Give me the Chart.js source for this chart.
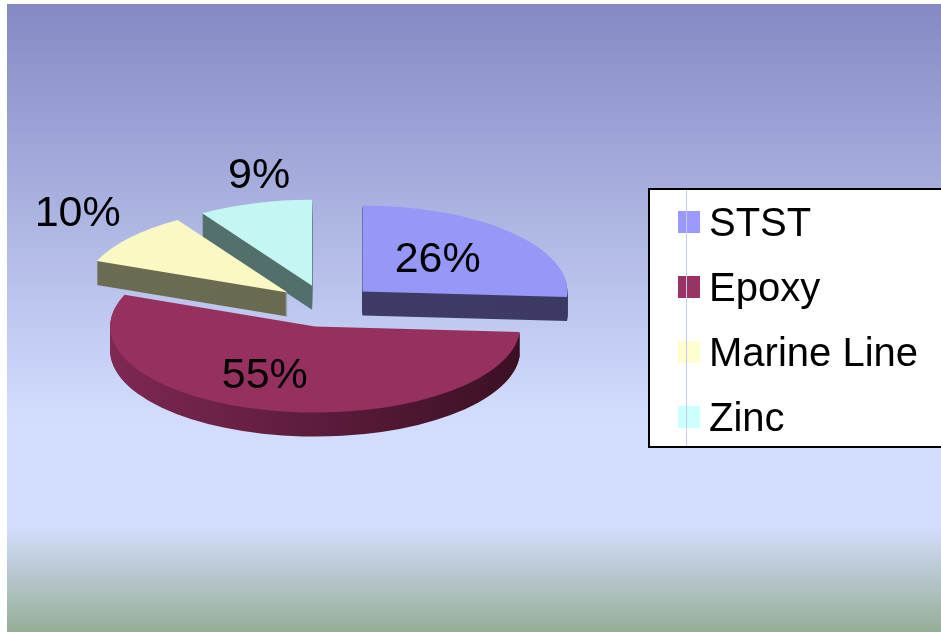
<!DOCTYPE html>
<html>
<head>
<meta charset="utf-8">
<script src="https://cdn.jsdelivr.net/npm/chart.js@4.4.1/dist/chart.umd.min.js"></script>
<style>
  html, body { margin: 0; padding: 0; background: #fff; }
  canvas { display: block; }
</style>
</head>
<body>
<canvas id="grafica" width="941" height="632"></canvas>
<script>
// =================== Datos ===================
const categorias = ["STST", "Epoxy", "Marine Line", "Zinc"];
const participacion = [26, 55, 10, 9];

// =================== Colores ===================
const colorCara = ["#9797F8", "#96305F", "#FAF9C3", "#C4F7F4"];
const ladoClaro = ["#403E6A", "#7E2853", "#6C6C52", "#54716E"];
const ladoOscuro = ["#3C3A62", "#3B1024", "#68684E", "#506C69"];
const colorLeyenda = ["#9999FF", "#993366", "#FFFFCC", "#CCFFFF"];

// =================== Pastel 3D ===================
const ALTO = 0.42;       // aplastamiento vertical de la vista
const GROSOR = 24;       // espesor del disco (px)
const SEPARACION = 50;   // explosión de cada porción

// etiquetas: fracción del radio y giro extra (grados)
const etiquetaRadio = [0.54, 0.59, 1.39, 1.33];
const etiquetaGiro = [-4, 12, 3, 5];

const FUENTE = '"Liberation Sans", Arial, sans-serif';

function porcentaje(v) {
  const total = participacion.reduce((a, b) => a + b, 0);
  return Math.round(v / total * 100) + "%";
}

const pastel3D = {
  id: "pastel3D",
  beforeDraw(chart) {
    const { ctx, width, height } = chart;
    ctx.save();
    ctx.fillStyle = "#fff";
    ctx.fillRect(0, 0, width, height);
    const g = ctx.createLinearGradient(0, 4, 0, height);
    g.addColorStop(0, "#8589C4");
    g.addColorStop(0.66, "#D2DDFE");
    g.addColorStop(0.83, "#D3DEFF");
    g.addColorStop(1, "#97AD96");
    ctx.fillStyle = g;
    ctx.fillRect(7, 4, width - 7, height - 4);
    ctx.restore();
  },
  beforeDatasetsDraw(chart) {
    const { ctx } = chart;
    const arcos = chart.getDatasetMeta(0).data;

    // inclina el disco alrededor del centro y separa la porción
    const vista = (arc, dy) => {
      const mid = (arc.startAngle + arc.endAngle) / 2;
      ctx.translate(0, arc.y + dy);
      ctx.scale(1, ALTO);
      ctx.translate(0, -arc.y);
      ctx.translate(Math.cos(mid) * SEPARACION, Math.sin(mid) * SEPARACION);
    };
    const trazo = (arc) => {
      ctx.beginPath();
      ctx.moveTo(arc.x, arc.y);
      ctx.arc(arc.x, arc.y, arc.outerRadius, arc.startAngle, arc.endAngle);
      ctx.closePath();
    };

    // paredes laterales
    arcos.forEach((arc, i) => {
      for (let d = GROSOR; d >= 1; d--) {
        ctx.save();
        vista(arc, d);
        const g = ctx.createLinearGradient(arc.x - arc.outerRadius, 0, arc.x + arc.outerRadius, 0);
        g.addColorStop(0, ladoClaro[i]);
        g.addColorStop(1, ladoOscuro[i]);
        ctx.fillStyle = g;
        trazo(arc);
        ctx.fill();
        ctx.restore();
      }
    });

    // caras superiores (las dibuja el propio ArcElement)
    arcos.forEach(arc => {
      ctx.save();
      vista(arc, 0);
      arc.draw(ctx);
      ctx.restore();
    });

    // porcentajes
    ctx.save();
    ctx.fillStyle = "#000";
    ctx.font = "43px " + FUENTE;
    ctx.textAlign = "center";
    ctx.textBaseline = "middle";
    arcos.forEach((arc, i) => {
      const mid = (arc.startAngle + arc.endAngle) / 2;
      const a = mid + etiquetaGiro[i] * Math.PI / 180;
      const r = arc.outerRadius * etiquetaRadio[i];
      const x = arc.x + Math.cos(mid) * SEPARACION + Math.cos(a) * r;
      const y = arc.y + (Math.sin(mid) * SEPARACION + Math.sin(a) * r) * ALTO;
      ctx.fillText(porcentaje(participacion[i]), x, y + 3);
    });
    ctx.restore();
    return false;
  },
  afterDraw(chart) {
    // leyenda con marco
    const { ctx } = chart;
    ctx.save();
    ctx.fillStyle = "#fff";
    ctx.fillRect(648, 188, 300, 260);
    ctx.strokeStyle = "#000";
    ctx.lineWidth = 2;
    ctx.strokeRect(649, 189, 300, 258);

    ctx.font = "40px " + FUENTE;
    ctx.textBaseline = "middle";
    ctx.textAlign = "left";
    categorias.forEach((nombre, i) => {
      const yc = 222 + i * 65;
      ctx.fillStyle = colorLeyenda[i];
      ctx.fillRect(678, yc - 11, 22, 22);
      ctx.fillStyle = "#000";
      ctx.fillText(nombre, 709, yc + 3);
    });

    ctx.strokeStyle = "#C6CBF3";
    ctx.lineWidth = 1;
    ctx.beginPath();
    ctx.moveTo(686.5, 190);
    ctx.lineTo(686.5, 446);
    ctx.stroke();
    ctx.restore();
  }
};

const ctxPastel = document.getElementById("grafica").getContext("2d");

new Chart(ctxPastel, {
  type: "pie",
  data: {
    labels: categorias,
    datasets: [{
      data: participacion,
      backgroundColor: colorCara,
      borderWidth: 0,
      radius: 205,
      clip: false
    }]
  },
  options: {
    responsive: false,
    animation: false,
    devicePixelRatio: 1,
    layout: { padding: { left: 0, right: 289, top: 0, bottom: 20 } },
    plugins: {
      legend: { display: false },
      tooltip: { enabled: false }
    }
  },
  plugins: [pastel3D]
});
</script>
</body>
</html>
